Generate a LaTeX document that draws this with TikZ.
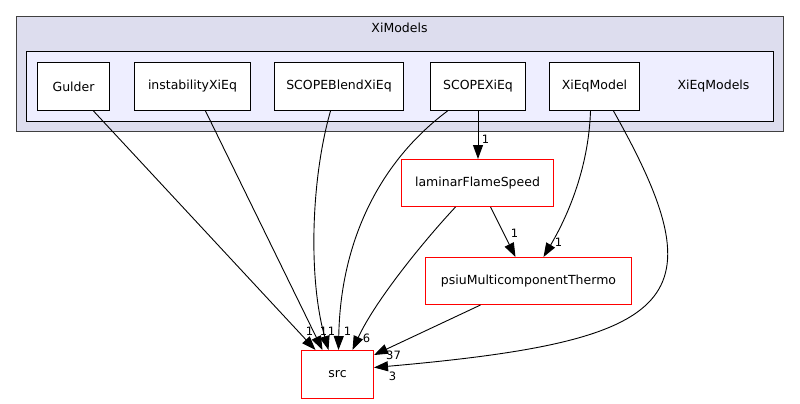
\documentclass[tikz,border=0pt]{standalone}
\usepackage{fontspec}
\setmainfont{DejaVu Sans}
\usepackage{xcolor}
\usepackage{tikz}
\usetikzlibrary{arrows.meta,calc}
\definecolor{dirout_c}{HTML}{DDDDEE}
\definecolor{dirin_c}{HTML}{EEEEFF}
\definecolor{dirline_c}{HTML}{404040}

\begin{document}
\begin{tikzpicture}[x=1pt, y=-1pt,
  every node/.style={font=\fontsize{12.5}{15}\selectfont},
  cl/.style={draw, line width=1pt, inner sep=0pt},
  dn/.style={draw, fill=white, line width=1pt, minimum height=48pt, inner sep=0pt},
  rn/.style={dn, draw=red},
  lbl/.style={font=\fontsize{11.5}{13}\selectfont, inner sep=0pt},
  dep/.style={-{Triangle[length=14pt, width=10pt]}, line width=0.9pt},
]
\useasboundingbox (-0.5,-0.5) rectangle (799.5,403.5);
\node[cl, fill=dirout_c, draw=dirline_c, minimum width=767pt, minimum height=115pt] (ximod) at (399.5,73.5) {};
\node (ximodl) at (399,27) {XiModels};
\node[cl, fill=dirin_c, minimum width=747pt, minimum height=70pt] (xieqs) at (399.5,86) {};
\node (xieqsl) at (713,86) {XiEqModels};
\node[dn, minimum width=72pt]  (gul) at (73,86)    {Gulder};
\node[dn, minimum width=116pt] (ins) at (192,86)   {instabilityXiEq};
\node[dn, minimum width=129pt] (sbl) at (338.5,86) {SCOPEBlendXiEq};
\node[dn, minimum width=95pt]  (sxi) at (477.5,86) {SCOPEXiEq};
\node[dn, minimum width=90pt]  (xem) at (594,86)   {XiEqModel};
\node[rn, minimum width=152pt, minimum height=47pt] (lfs) at (477,182.5) {laminarFlameSpeed};
\node[rn, minimum width=206pt, minimum height=47pt] (psi) at (528,280.5) {psiuMulticomponentThermo};
\node[rn, minimum width=72pt] (src) at (337,374) {src};
\draw[dep] ([xshift=20pt]gul.south) -- ([xshift=-22pt]src.north) node[lbl] at (309,331) {1};
\draw[dep] ([xshift=13pt]ins.south) -- ([xshift=-15pt]src.north) node[lbl] at (323,331) {1};
\draw[dep] ([xshift=-8.5pt]sbl.south) .. controls +(-20,70) and +(-20,-70) .. ([xshift=-9pt]src.north)
  node[lbl] at (331,331) {1};
\draw[dep] ([xshift=-30.5pt]sxi.south) .. controls +(-67,50) and +(2,-110) .. ([xshift=1pt]src.north)
  node[lbl] at (347,331) {1};
\draw[dep] (sxi.south) -- (sxi.south |- lfs.north) node[lbl] at (485,139) {1};
\draw[dep] ([xshift=-22pt]lfs.south) .. controls +(-30,32) and +(23,-50) .. ([xshift=15pt]src.north)
  node[lbl] at (366,338) {6};
\draw[dep] ([xshift=13pt]lfs.south) -- ([xshift=-13pt]psi.north) node[lbl] at (514,233) {1};
\draw[dep] ([xshift=-4pt]xem.south) .. controls +(-2,60) and +(22,-37) .. ([xshift=15pt]psi.north)
  node[lbl] at (558,242) {1};
\draw[dep] ([xshift=-48pt]psi.south) -- ([yshift=-5pt]src.north east) node[lbl] at (393,355) {37};
\draw[dep] ([xshift=19pt]xem.south) .. controls +(107,190) and +(307,-27) .. ([yshift=7pt]src.east)
  node[lbl] at (392,376) {3};
\end{tikzpicture}
\end{document}
